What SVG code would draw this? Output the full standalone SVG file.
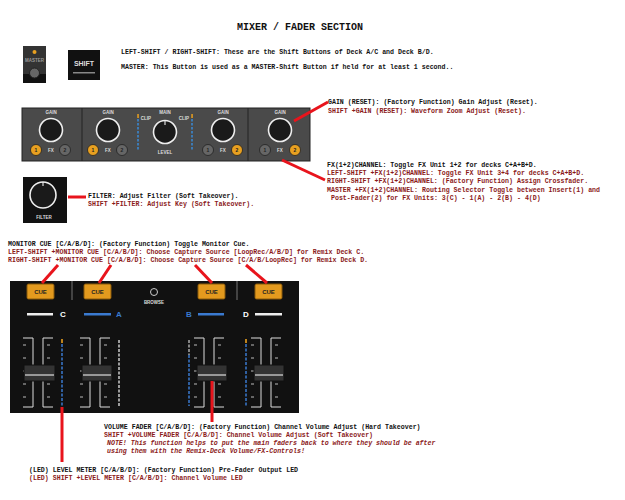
<svg xmlns="http://www.w3.org/2000/svg" width="625" height="500" viewBox="0 0 625 500">
<style>
text{font-family:"Liberation Mono",monospace;font-size:6.6px;font-weight:bold;fill:#111}
.r{fill:#8b1a1a}
.t{font-size:10px;text-anchor:middle}
.l{font-family:"Liberation Sans",sans-serif;font-size:4.5px;fill:#ddd;text-anchor:middle}
.n{font-family:"Liberation Sans",sans-serif;font-size:5px;fill:#222;text-anchor:middle}
.k{fill:#1a1a1a;stroke:#eee;stroke-width:1.6}
.bo{fill:#e8a020;stroke:#222;stroke-width:0.8}
.bg{fill:#666;stroke:#222;stroke-width:0.8}
.con line{stroke:#e8141c;stroke-width:3}
.trk{fill:none;stroke:#ddd;stroke-width:1}
.cap{fill:#333;stroke:#111}
.cue{fill:#e39a1e;stroke:#8a5a0a}
.ct{font-family:"Liberation Sans",sans-serif;font-size:6px;font-weight:bold;fill:#222;text-anchor:middle}
</style>
<defs>
<g id="ticks"><path d="M-4 345h3M-4 358h3M-4 371h3M-4 384h3M-4 397h3" stroke="#bbb" stroke-width="1"/></g>
</defs>
<rect width="625" height="500" fill="#fff"/>
<text class="t" x="300" y="30">MIXER / FADER SECTION</text>
<g id="master"><rect x="23" y="46" width="23" height="37" fill="#333"/><rect x="23" y="74" width="23" height="9" fill="#111"/><circle cx="34.5" cy="73" r="5" fill="#666" stroke="#222"/><text class="l" x="34.5" y="62" style="fill:#999">MASTER</text><circle cx="34.5" cy="52" r="2" fill="#e8a020"/></g>
<g id="shift"><rect x="68" y="50" width="32" height="30" fill="#111"/><text class="l" x="84" y="66" style="font-size:7px">SHIFT</text><rect x="73" y="72" width="22" height="1.5" fill="#888"/></g>
<text x="121" y="54">LEFT-SHIFT / RIGHT-SHIFT: These are the Shift Buttons of Deck A/C and Deck B/D.</text>
<text x="121" y="69">MASTER: This Button is used as a MASTER-Shift Button if held for at least 1 second..</text>
<g id="gain-panel">
<rect x="22" y="108" width="288" height="53" fill="#4a4a4a" stroke="#222"/>
<line x1="82" y1="108" x2="82" y2="161" stroke="#222"/><line x1="248" y1="108" x2="248" y2="161" stroke="#222"/>
<g id="k1"><text class="l" x="51" y="114">GAIN</text><circle class="k" cx="51" cy="130" r="11.5"/><circle class="bo" cx="36" cy="150" r="5.5"/><text class="n" x="36" y="152">1</text><circle class="bg" cx="65" cy="150" r="5.5"/><text class="n" x="65" y="152">2</text><text class="l" x="51" y="152">FX</text></g>
<g id="k2"><text class="l" x="108" y="114">GAIN</text><circle class="k" cx="108" cy="130" r="11.5"/><circle class="bo" cx="93" cy="150" r="5.5"/><text class="n" x="93" y="152">1</text><circle class="bg" cx="122" cy="150" r="5.5"/><text class="n" x="122" y="152">2</text><text class="l" x="108" y="152">FX</text></g>
<g id="main"><text class="l" x="165" y="114">MAIN</text><circle class="k" cx="165" cy="132" r="11.5"/><line x1="165" y1="121" x2="165" y2="125" stroke="#fff"/><text class="l" x="165" y="154">LEVEL</text><text class="l" x="146" y="120">CLIP</text><text class="l" x="184" y="120">CLIP</text>
<line x1="138" y1="119" x2="138" y2="150" stroke="#3a8ad8" stroke-width="1.5" stroke-dasharray="2.5,1.5"/><line x1="192" y1="119" x2="192" y2="150" stroke="#3a8ad8" stroke-width="1.5" stroke-dasharray="2.5,1.5"/><rect x="137.3" y="114" width="1.5" height="4" fill="#e8a020"/><rect x="191.3" y="114" width="1.5" height="4" fill="#e8a020"/></g>
<g id="k4"><text class="l" x="223" y="114">GAIN</text><circle class="k" cx="223" cy="130" r="11.5"/><circle class="bg" cx="208" cy="150" r="5.5"/><text class="n" x="208" y="152">1</text><circle class="bo" cx="237" cy="150" r="5.5"/><text class="n" x="237" y="152">2</text><text class="l" x="223" y="152">FX</text></g>
<g id="k5"><text class="l" x="280" y="114">GAIN</text><circle class="k" cx="280" cy="130" r="11.5"/><circle class="bg" cx="265" cy="150" r="5.5"/><text class="n" x="265" y="152">1</text><circle class="bo" cx="295" cy="150" r="5.5"/><text class="n" x="295" y="152">2</text><text class="l" x="280" y="152">FX</text></g>
</g>
<g id="filter"><rect x="23" y="177" width="44" height="46" fill="#111"/><circle class="k" cx="43" cy="195" r="13"/><line x1="43" y1="182" x2="43" y2="186" stroke="#fff"/><text class="l" x="44" y="219">FILTER</text></g>
<text x="328" y="104">GAIN (RESET): (Factory Function) Gain Adjust (Reset).</text>
<text class="r" x="328" y="113">SHIFT +GAIN (RESET): Waveform Zoom Adjust (Reset).</text>
<text x="327" y="167">FX(1+2)CHANNEL: Toggle FX Unit 1+2 for decks C+A+B+D.</text>
<text class="r" x="327" y="175">LEFT-SHIFT +FX(1+2)CHANNEL: Toggle FX Unit 3+4 for decks C+A+B+D.</text>
<text class="r" x="327" y="183">RIGHT-SHIFT +FX(1+2)CHANNEL: (Factory Function) Assign Crossfader.</text>
<text class="r" x="327" y="192">MASTER +FX(1+2)CHANNEL: Routing Selector Toggle between Insert(1) and</text>
<text class="r" x="331" y="200">Post-Fader(2) for FX Units: 3(C) - 1(A) - 2(B) - 4(D)</text>
<text x="88" y="198">FILTER: Adjust Filter (Soft Takeover).</text>
<text class="r" x="88" y="206">SHIFT +FILTER: Adjust Key (Soft Takeover).</text>
<text x="8" y="246">MONITOR CUE [C/A/B/D]: (Factory Function) Toggle Monitor Cue.</text>
<text class="r" x="8" y="254">LEFT-SHIFT +MONITOR CUE [C/A/B/D]: Choose Capture Source [LoopRec/A/B/D] for Remix Deck C.</text>
<text class="r" x="8" y="262">RIGHT-SHIFT +MONITOR CUE [C/A/B/D]: Choose Capture Source [C/A/B/LoopRec] for Remix Deck D.</text>
<g id="fader-panel">
<rect x="10" y="281" width="289" height="132" fill="#111"/>
<line x1="72" y1="281" x2="72" y2="300" stroke="#777"/><line x1="237" y1="281" x2="237" y2="300" stroke="#777"/>
<rect class="cue" x="27" y="284" width="27" height="15" rx="1.5"/><text class="ct" x="40.5" y="294">CUE</text>
<rect class="cue" x="84" y="284" width="27" height="15" rx="1.5"/><text class="ct" x="97.5" y="294">CUE</text>
<rect class="cue" x="198" y="284" width="27" height="15" rx="1.5"/><text class="ct" x="211.5" y="294">CUE</text>
<rect class="cue" x="255" y="284" width="27" height="15" rx="1.5"/><text class="ct" x="268.5" y="294">CUE</text>
<circle cx="154" cy="292" r="3.5" fill="none" stroke="#ccc" stroke-width="1"/><text class="l" x="154" y="304">BROWSE</text>
<rect x="27" y="313" width="26" height="2.5" fill="#eee"/><text class="ct" x="63" y="317" style="fill:#fff;font-size:8px">C</text>
<rect x="84" y="313" width="27" height="2.5" fill="#3a7ad0"/><text class="ct" x="119" y="317" style="fill:#3a7ad0;font-size:8px">A</text>
<text class="ct" x="189" y="317" style="fill:#3a7ad0;font-size:8px">B</text><rect x="198" y="313" width="26" height="2.5" fill="#3a7ad0"/>
<text class="ct" x="246" y="317" style="fill:#fff;font-size:8px">D</text><rect x="255" y="313" width="27" height="2.5" fill="#eee"/>
<g id="f1"><path class="trk" d="M23 338H33V407H23M53 338H43V407H53"/><use href="#ticks" x="27"/><use href="#ticks" x="51"/><line x1="62" y1="344" x2="62" y2="406" stroke="#3a7ad0" stroke-width="1.5" stroke-dasharray="3,1.5"/><rect x="61.2" y="339" width="1.6" height="4" fill="#e8a020"/><rect class="cap" x="24" y="365" width="31" height="16"/><line x1="25" y1="375" x2="54" y2="375" stroke="#fff"/></g>
<g id="f2"><path class="trk" d="M80 338H90V407H80M110 338H100V407H110"/><use href="#ticks" x="84"/><use href="#ticks" x="108"/><line x1="119" y1="340" x2="119" y2="406" stroke="#ccc" stroke-width="1.5" stroke-dasharray="3,1.5"/><rect class="cap" x="82" y="365" width="30" height="16"/><line x1="83" y1="375" x2="111" y2="375" stroke="#fff"/></g>
<g id="f3"><path class="trk" d="M194 338H204V407H194M224 338H214V407H224"/><use href="#ticks" x="198"/><use href="#ticks" x="222"/><line x1="189" y1="355" x2="189" y2="406" stroke="#3a7ad0" stroke-width="1.5" stroke-dasharray="3,1.5"/><line x1="189" y1="340" x2="189" y2="355" stroke="#aaa" stroke-width="1.5" stroke-dasharray="3,1.5"/><rect class="cap" x="197" y="365" width="30" height="16"/><line x1="198" y1="375" x2="226" y2="375" stroke="#fff"/></g>
<g id="f4"><path class="trk" d="M251 338H261V407H251M281 338H271V407H281"/><use href="#ticks" x="255"/><use href="#ticks" x="279"/><line x1="246" y1="344" x2="246" y2="406" stroke="#3a7ad0" stroke-width="1.5" stroke-dasharray="3,1.5"/><rect x="245.2" y="339" width="1.6" height="4" fill="#e8a020"/><rect class="cap" x="254" y="365" width="30" height="16"/><line x1="255" y1="375" x2="283" y2="375" stroke="#fff"/></g>
</g>
<g class="con" id="connectors">
<line x1="328" y1="102" x2="294" y2="121"/>
<line x1="282" y1="160" x2="325" y2="180"/>
<line x1="68" y1="197" x2="86" y2="197"/>
<line x1="58" y1="265" x2="42" y2="283"/>
<line x1="111" y1="265" x2="99" y2="283"/>
<line x1="195" y1="265" x2="212" y2="283"/>
<line x1="246" y1="265" x2="267" y2="283"/>
<line x1="212" y1="381" x2="212" y2="422"/>
<line x1="62" y1="407" x2="62" y2="462"/>
</g>
<text x="104" y="429">VOLUME FADER [C/A/B/D]: (Factory Function) Channel Volume Adjust (Hard Takeover)</text>
<text class="r" x="104" y="437">SHIFT +VOLUME FADER [C/A/B/D]:  Channel Volume Adjust (Soft Takeover)</text>
<text class="r" x="107" y="445" font-style="italic">NOTE! This function helps to put the main faders back to where they should be after</text>
<text class="r" x="107" y="453" font-style="italic">using them with the Remix-Deck Volume/FX-Controls!</text>
<text x="29" y="472">(LED) LEVEL METER [C/A/B/D]: (Factory Function) Pre-Fader Output LED</text>
<text class="r" x="29" y="480">(LED) SHIFT +LEVEL METER [C/A/B/D]: Channel Volume LED</text>
</svg>
